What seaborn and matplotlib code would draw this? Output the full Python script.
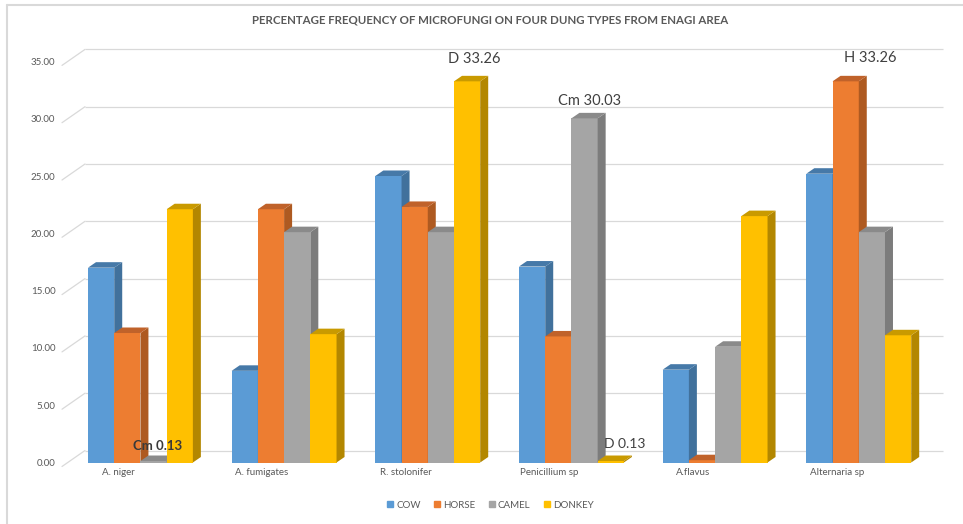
import matplotlib
matplotlib.use("Agg")
import numpy as np
import pandas as pd
import seaborn as sns
import matplotlib.pyplot as plt
from matplotlib.patches import Polygon
from matplotlib.lines import Line2D

# ---- data -------------------------------------------------------------
categories = ["A. niger", "A. fumigates", "R. stolonifer", "Penicillium sp", "A.flavus", "Alternaria sp"]
series = ["COW", "HORSE", "CAMEL", "DONKEY"]
cow = [17.0, 8.0, 25.0, 17.1, 8.1, 25.2]
horse = [11.3, 22.1, 22.3, 11.0, 0.2, 33.26]
camel = [0.13, 20.1, 20.1, 30.03, 10.1, 20.1]
donkey = [22.1, 11.2, 33.26, 0.13, 21.5, 11.1]
y_ticks = [0, 5, 10, 15, 20, 25, 30, 35]

# highlighted values: (prefix, category index, series)
ann_prefix = ["Cm", "D", "Cm", "D", "H"]
ann_cat = [0, 2, 3, 3, 5]
ann_series = ["CAMEL", "DONKEY", "CAMEL", "DONKEY", "HORSE"]

title = "PERCENTAGE FREQUENCY OF MICROFUNGI ON FOUR DUNG TYPES FROM ENAGI AREA"

# ---- styling ----------------------------------------------------------
front_colors = ["#5B9BD5", "#ED7D31", "#A5A5A5", "#FFC000"]
side_colors = ["#41719C", "#AE5A21", "#7C7C7C", "#B38700"]
top_colors = ["#4679A8", "#C0622A", "#8A8A8A", "#C99A00"]
text_grey = "#595959"
grid_grey = "#D9D9D9"

sns.set_theme(style="white")
plt.rcParams["font.family"] = ["Lato", "DejaVu Sans"]

W, H = 963, 524
fig = plt.figure(figsize=(W / 100, H / 100), dpi=100)
ax_left, ax_right, ax_bottom, ax_top = 68.6, 930.6, 462.5, 61.4
ax = fig.add_axes([ax_left / W, (H - ax_bottom) / H,
                   (ax_right - ax_left) / W, (ax_bottom - ax_top) / H])

values = {"COW": cow, "HORSE": horse, "CAMEL": camel, "DONKEY": donkey}
df = pd.DataFrame({
    "organism": np.tile(categories, len(series)),
    "dung": np.repeat(series, len(categories)),
    "freq": np.concatenate([values[s] for s in series]),
})

bar_width = 0.73
sns.barplot(data=df, x="organism", y="freq", hue="dung", order=categories,
            hue_order=series, palette=front_colors, width=bar_width, gap=0,
            saturation=1, errorbar=None, edgecolor="none", linewidth=0,
            legend=False, ax=ax)

ax.set_xlim(-0.5, 5.5)
ax.set_ylim(0, 35)
sns.despine(ax=ax, left=True, bottom=True, top=True, right=True)
ax.grid(False)
ax.set_xlabel("")
ax.set_ylabel("")

# pixel -> data unit conversion
ux = (ax_right - ax_left) / 6.0
uy = (ax_bottom - ax_top) / 35.0


def px_x(px):
    return -0.5 + (px - ax_left) / ux


# back-wall gridlines with the slanted side-wall stubs
depth_x, depth_y = 16.4 / ux, 12.0 / uy
for t in y_ticks:
    ax.plot([px_x(85), px_x(943)], [t + depth_y, t + depth_y], color=grid_grey,
            lw=0.9, zorder=0.5, clip_on=False, solid_capstyle="butt")
    ax.plot([px_x(62), px_x(85)], [t - 4 / uy, t + depth_y], color=grid_grey,
            lw=0.9, zorder=0.5, clip_on=False)

# extruded side and top faces for every bar
ddx, ddy = 8.0 / ux, 5.5 / uy
for k, cont in enumerate(ax.containers):
    for rect in cont:
        x0 = rect.get_x()
        x1 = x0 + rect.get_width()
        h = rect.get_height()
        z = 2 + k * 0.1
        rect.set_zorder(z)
        rect.set_clip_on(False)
        side = Polygon([(x1, 0), (x1 + ddx, ddy), (x1 + ddx, h + ddy), (x1, h)],
                       closed=True, facecolor=side_colors[k], edgecolor="none",
                       zorder=z + 0.01, clip_on=False)
        top = Polygon([(x0, h), (x1, h), (x1 + ddx, h + ddy), (x0 + ddx, h + ddy)],
                      closed=True, facecolor=top_colors[k], edgecolor="none",
                      zorder=z + 0.02, clip_on=False)
        ax.add_patch(side)
        ax.add_patch(top)

# axis ticks
ax.set_yticks(y_ticks)
ax.set_yticklabels([f"{t:.2f}" for t in y_ticks])
ax.tick_params(axis="y", length=0, pad=9.5, labelsize=7, labelcolor=text_grey)
label_shift = 22.0 / ux
ax.set_xticks(np.arange(len(categories)) - label_shift)
ax.set_xticklabels(categories)
ax.tick_params(axis="x", length=0, pad=4, labelsize=7, labelcolor=text_grey)

# value call-outs
ann_offsets = [(4, 15), (7, 22), (5, 17), (14, 17), (25, 23)]
ann_sizes = [9.5, 10.5, 10.5, 10, 10.5]
ann_weights = ["bold", "normal", "normal", "normal", "normal"]
ann_colors = ["#3A3A3A", "#404040", "#404040", "#404040", "#404040"]
for p, c, s, off, fs, fw, col in zip(ann_prefix, ann_cat, ann_series, ann_offsets,
                                      ann_sizes, ann_weights, ann_colors):
    k = series.index(s)
    v = values[s][c]
    xc = c + (k - 1.5) * bar_width / 4
    ax.annotate(f"{p} {v:.2f}", xy=(xc, v), xytext=(off[0] * 0.72, off[1] * 0.72),
                textcoords="offset points", ha="center", va="center",
                fontsize=fs, fontweight=fw, color=col, zorder=10,
                annotation_clip=False)

# legend
handles = [Line2D([], [], marker="s", ls="none", color=c, markersize=4.5)
           for c in front_colors]
fig.legend(handles, series, loc="center", bbox_to_anchor=(490 / W, 1 - 505 / H),
           ncol=4, frameon=False, fontsize=7, labelcolor=text_grey,
           handletextpad=0.2, columnspacing=1.3, handlelength=0.8)

# title
fig.text(490 / W, 1 - 20 / H, title, ha="center", va="center", fontsize=8.3,
         fontweight="bold", color=text_grey)

# chart frame edges
fig.add_artist(Line2D([7 / W, 7 / W], [0, 1 - 5 / H], transform=fig.transFigure,
                      color=grid_grey, lw=1.5))
fig.add_artist(Line2D([7 / W, 1], [1 - 5 / H, 1 - 5 / H], transform=fig.transFigure,
                      color=grid_grey, lw=1.5))

fig.savefig("out.png", dpi=100, facecolor="white")
